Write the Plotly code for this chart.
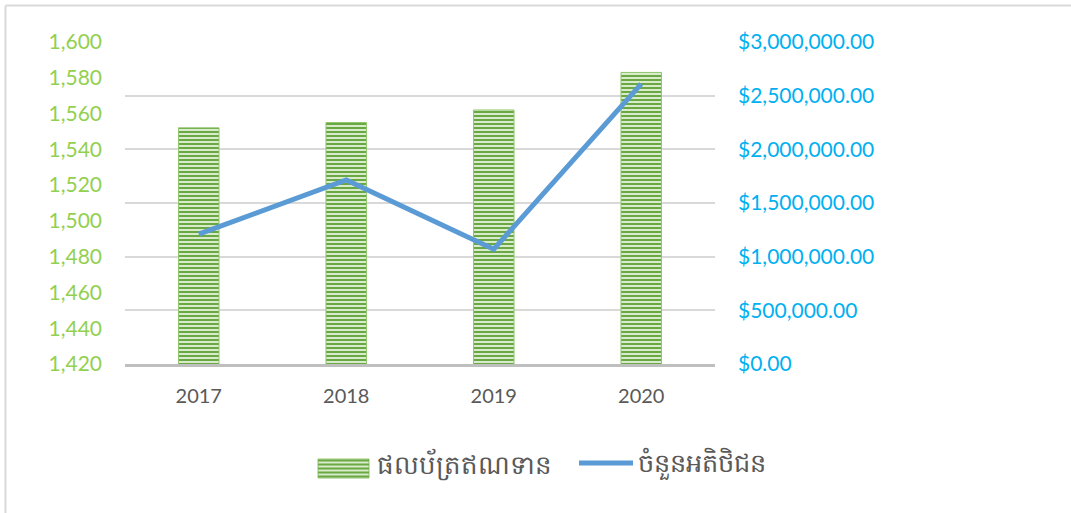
import plotly.graph_objects as go

years = ["2017", "2018", "2019", "2020"]
production = [1552, 1555, 1562, 1583]
visitors = [1210000, 1715000, 1070000, 2610000]
bar_name = "ផលប័ត្រឥណទាន"
line_name = "ចំនួនអតិថិជន"
left_ticks = [1420, 1440, 1460, 1480, 1500, 1520, 1540, 1560, 1580, 1600]
right_ticks = [0, 500000, 1000000, 1500000, 2000000, 2500000, 3000000]

W, H = 1071, 513
L, R, T, B = 125, 715, 42, 364

BAR_FG = "#6AA843"
BAR_BG = "#D8EBCB"
LINE_C = "#5B9BD5"

fig = go.Figure()
fig.add_trace(go.Bar(
    x=years, y=production, name=bar_name, width=0.275,
    marker=dict(color=BAR_BG, line=dict(width=1, color="#92C66F"),
                pattern=dict(shape="-", fgcolor=BAR_FG, bgcolor=BAR_BG,
                             size=4, solidity=0.5, fillmode="replace")),
    yaxis="y", showlegend=False,
))
fig.add_trace(go.Scatter(
    x=years, y=visitors, name=line_name, mode="lines",
    line=dict(color=LINE_C, width=5),
    yaxis="y2", showlegend=False,
))

def px2x(p):
    return (p - L) / (R - L)

def px2y(p):
    return (B - p) / (B - T)

shapes = [
    dict(type="line", xref="paper", yref="paper", x0=px2x(5.5), x1=px2x(1075),
         y0=px2y(5.5), y1=px2y(5.5), line=dict(color="#D9D9D9", width=2)),
    dict(type="line", xref="paper", yref="paper", x0=px2x(5.5), x1=px2x(5.5),
         y0=px2y(5.5), y1=px2y(520), line=dict(color="#D9D9D9", width=2)),
]
# legend swatch for the bar series (striped box)
sx0, sx1, sy0, sy1 = 318, 369, 459, 478
shapes.append(dict(type="rect", xref="paper", yref="paper", x0=px2x(sx0), x1=px2x(sx1),
                   y0=px2y(sy1), y1=px2y(sy0), fillcolor=BAR_BG,
                   line=dict(width=1, color="#92C66F")))
yy = sy0 + 1.5
while yy < sy1:
    shapes.append(dict(type="line", xref="paper", yref="paper", x0=px2x(sx0), x1=px2x(sx1),
                       y0=px2y(yy), y1=px2y(yy), line=dict(color=BAR_FG, width=2)))
    yy += 4
# legend swatch for the line series
shapes.append(dict(type="line", xref="paper", yref="paper", x0=px2x(579), x1=px2x(633),
                   y0=px2y(463), y1=px2y(463), line=dict(color=LINE_C, width=5)))

annotations = [
    dict(text=bar_name, xref="paper", yref="paper", x=px2x(375), y=px2y(464),
         xanchor="left", yanchor="middle", showarrow=False,
         font=dict(size=26, color="#595959")),
    dict(text=line_name, xref="paper", yref="paper", x=px2x(636), y=px2y(464),
         xanchor="left", yanchor="middle", showarrow=False,
         font=dict(size=25.5, color="#595959")),
]

fig.update_layout(
    width=W, height=H,
    margin=dict(l=L, r=W - R, t=T, b=H - B, pad=0),
    paper_bgcolor="white", plot_bgcolor="white",
    font=dict(family="Lato, 'Open Sans', sans-serif", size=18, color="#595959"),
    xaxis=dict(showgrid=False, showline=True, linecolor="#BFBFBF", linewidth=3,
               ticks="", tickfont=dict(size=20, color="#595959"), ticklabelstandoff=12),
    yaxis=dict(range=[1420, 1600], tickvals=left_ticks,
               ticktext=[f"{v:,}" for v in left_ticks], showgrid=False,
               zeroline=False, showline=False, ticks="",
               tickfont=dict(size=21, color="#92D050"), ticklabelstandoff=22),
    yaxis2=dict(range=[0, 3000000], tickvals=right_ticks, overlaying="y", side="right",
                ticktext=[f"${v:,.2f}" for v in right_ticks], showgrid=True,
                gridcolor="#D9D9D9", gridwidth=2, zeroline=False, showline=False,
                ticks="", tickfont=dict(size=21, color="#00B0F0"), ticklabelstandoff=22),
    showlegend=False,
    shapes=shapes,
    annotations=annotations,
)

fig.write_html("out.html", config={"displayModeBar": False},
               post_script="document.body.style.margin='0';document.body.style.padding='0';")
